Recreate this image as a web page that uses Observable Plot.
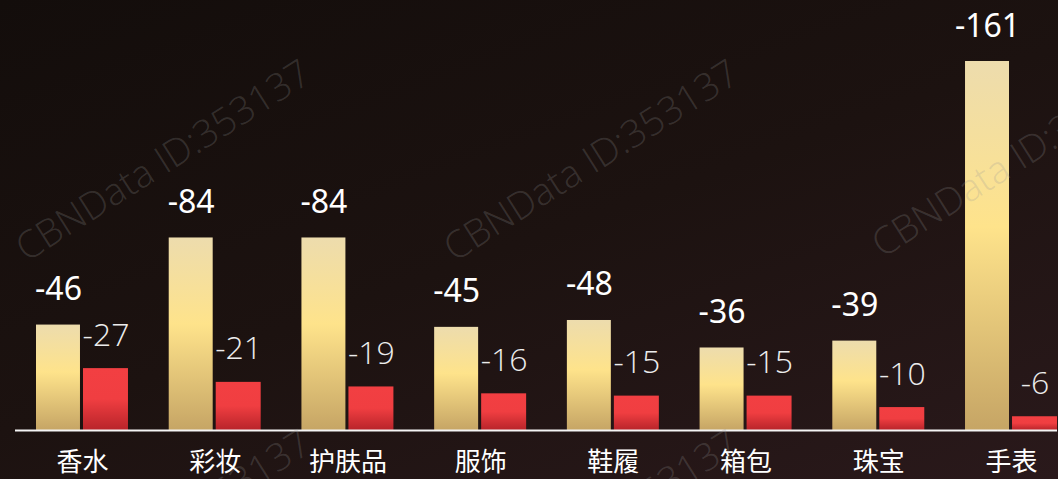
<!DOCTYPE html>
<html>
<head>
<meta charset="utf-8">
<script src="https://cdn.jsdelivr.net/npm/d3@7"></script>
<script src="https://cdn.jsdelivr.net/npm/@observablehq/plot@0.6"></script>
<style>
  html, body { margin: 0; padding: 0; }
  body { width: 1058px; height: 479px; overflow: hidden;
         background: linear-gradient(160deg, #130d0b 0%, #1c1210 50%, #2a191b 100%); }
  #chart { position: relative; width: 1058px; height: 479px; }
  #chart svg { position: absolute; left: 0; top: 0; background: transparent; }
</style>
</head>
<body>
<div id="chart"></div>
<script>
const categories = ["香水", "彩妆", "护肤品", "服饰", "鞋履", "箱包", "珠宝", "手表"];
const goldValues = [-46, -84, -84, -45, -48, -36, -39, -161];
const redValues  = [-27, -21, -19, -16, -15, -15, -10, -6];
const watermarkText = "CBNData ID:353137";

const gold = categories.map((c, i) => ({category: c, value: goldValues[i]}));
const red  = categories.map((c, i) => ({category: c, value: redValues[i]}));

const W = 1058, H = 479;
const cjk = "'Noto Sans CJK SC', 'Noto Sans', sans-serif";
const latin = "'Noto Sans', 'Open Sans', sans-serif";
const light = "'Open Sans', 'Noto Sans', sans-serif";

const defs = () => {
  const d = d3.create("svg:defs");
  const g = d.append("linearGradient").attr("id", "goldGrad").attr("x1", 0).attr("y1", 0).attr("x2", 0).attr("y2", 1);
  g.append("stop").attr("offset", "0%").attr("stop-color", "#eddcad");
  g.append("stop").attr("offset", "45%").attr("stop-color", "#fee38b");
  g.append("stop").attr("offset", "100%").attr("stop-color", "#c6a565");
  const r = d.append("linearGradient").attr("id", "redGrad").attr("x1", 0).attr("y1", 0).attr("x2", 0).attr("y2", 1);
  r.append("stop").attr("offset", "0%").attr("stop-color", "#f23f42");
  r.append("stop").attr("offset", "50%").attr("stop-color", "#f03e41");
  r.append("stop").attr("offset", "100%").attr("stop-color", "#b8242a");
  return d.node();
};

const chart = Plot.plot({
  width: W,
  height: H,
  marginTop: 61,
  marginBottom: 49,
  marginLeft: 15,
  marginRight: 1,
  style: {background: "transparent", fontFamily: cjk, color: "#fff", overflow: "visible"},
  x: {domain: categories, range: [36, 1057], paddingInner: 0.307, paddingOuter: 0, round: false, axis: null},
  y: {domain: [0, 161], axis: null},
  marks: [
    defs,
    Plot.barY(gold, {x: "category", y: d => -d.value, fill: "url(#goldGrad)", insetRight: 48}),
    Plot.barY(red, {x: "category", y: d => -d.value, fill: "url(#redGrad)", insetLeft: 47}),
    Plot.text(gold, {x: "category", y: d => -d.value, text: d => String(d.value), dx: -24,
      lineAnchor: "bottom", dy: -25, fill: "#ffffff", fontSize: 32, fontFamily: latin}),
    Plot.text(red, {x: "category", y: d => -d.value, text: d => String(d.value), dx: 23.5,
      lineAnchor: "bottom", dy: -23, fill: "#ececec", fontSize: 32, fontWeight: 300, fontFamily: light}),
    Plot.ruleY([0], {stroke: "#f4f4f4", strokeWidth: 2}),
    Plot.axisX({domain: categories, tickSize: 0, tickPadding: 22, fontSize: 26, fill: "#ffffff", label: null, fontFamily: cjk})
  ]
});

// watermark overlay
const wmX = [26, 454, 882, 26, 454];
const wmY = [262, 262, 258, 632, 632];
const wm = Plot.plot({
  width: W, height: H, margin: 0,
  x: {domain: [0, W], range: [0, W], axis: null},
  y: {domain: [0, H], range: [0, H], axis: null},
  style: {background: "transparent", fontFamily: light},
  marks: [
    Plot.text(wmX.map((x, i) => ({x, y: wmY[i]})), {x: "x", y: "y", text: () => watermarkText,
      textAnchor: "start", lineAnchor: "bottom", rotate: -32.4, fontSize: 38, fontWeight: 300,
      fill: "rgba(150,150,150,0.24)", fontFamily: light})
  ]
});

const host = document.getElementById("chart");
host.appendChild(chart);
host.appendChild(wm);
</script>
</body>
</html>
